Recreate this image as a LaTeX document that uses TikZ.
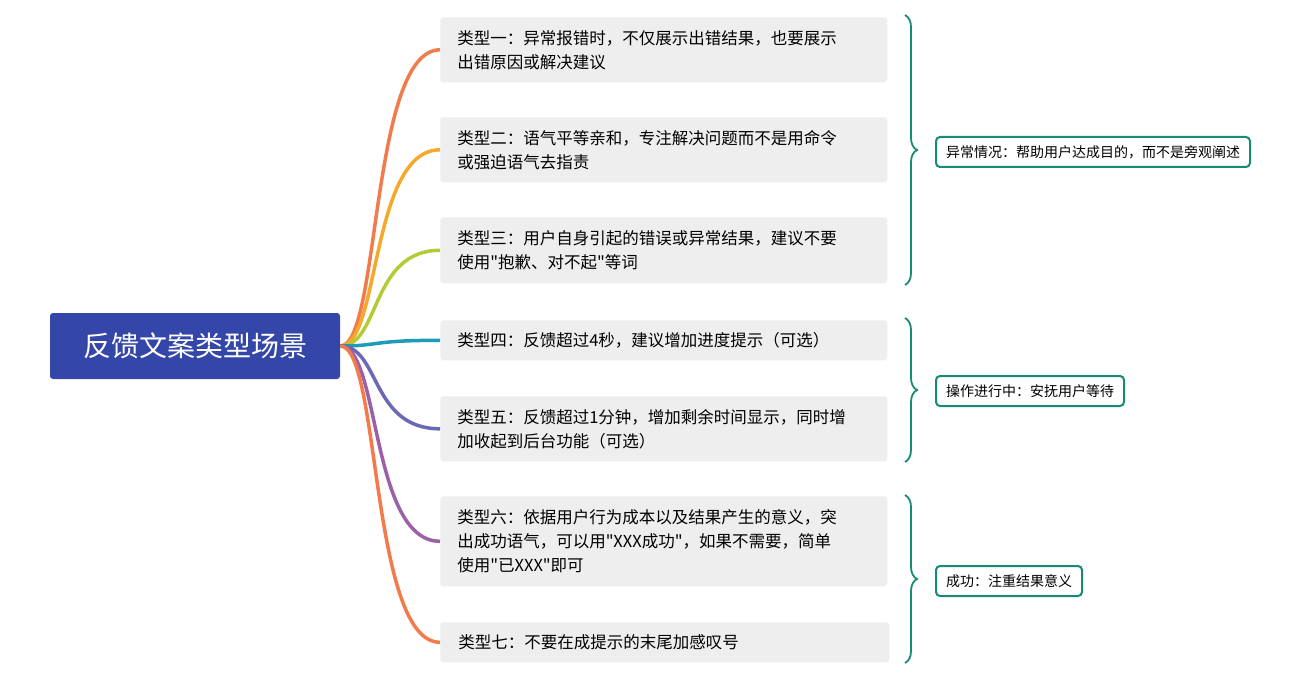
\documentclass[tikz,border=0pt]{standalone}
\usepackage{fontspec}
\defaultfontfeatures[\rmfamily]{}
\setmainfont{Noto Sans CJK SC}
\usetikzlibrary{positioning,decorations.pathreplacing}
\definecolor{rootblue}{HTML}{3446A8}
\definecolor{boxgray}{HTML}{EEEEEE}
\definecolor{teal}{HTML}{178A78}
\definecolor{cA}{HTML}{F27B4D}
\definecolor{cB}{HTML}{F6A82A}
\definecolor{cC}{HTML}{B3CB35}
\definecolor{cD}{HTML}{1D9BB8}
\definecolor{cE}{HTML}{6B69B6}
\definecolor{cF}{HTML}{9C60A9}
\definecolor{cG}{HTML}{F27A4B}
\newcommand{\qt}{\symbol{34}}

\begin{document}
\begin{tikzpicture}[x=1pt,y=-1pt,semithick]
  \tikzset{item/.style={fill=boxgray,rounded corners=3pt,anchor=north west,
                        minimum width=447pt,text width=413pt,align=left,
                        inner xsep=17pt,font=\fontsize{16.5}{24}\selectfont},
           tag/.style={draw=teal,line width=2pt,rounded corners=4pt,fill=white,
                       anchor=west,inner xsep=10pt,minimum height=30pt,
                       font=\fontsize{14}{16}\selectfont},
           branch/.style={line width=3.5pt},
           curly/.style={teal,line width=1.8pt,decorate,
                         decoration={brace,amplitude=12pt}}}
  \useasboundingbox (0,0) rectangle (1300,679);

  \node[fill=rootblue,rounded corners=3pt,text=white,minimum width=290pt,
        minimum height=66pt,font=\fontsize{28}{30}\selectfont] (root) at (195,346) {反馈文案类型场景};

  \node[item,minimum height=65pt] (t1) at (440,17) {类型一：异常报错时，不仅展示出错结果，也要展示\\出错原因或解决建议};
  \node[item,minimum height=65pt] (t2) at (440,117) {类型二：语气平等亲和，专注解决问题而不是用命令\\或强迫语气去指责};
  \node[item,minimum height=66pt] (t3) at (440,217) {类型三：用户自身引起的错误或异常结果，建议不要\\使用\qt 抱歉、对不起\qt 等词};
  \node[item,minimum height=40pt] (t4) at (440,320) {类型四：反馈超过4秒，建议增加进度提示（可选）};
  \node[item,minimum height=65pt] (t5) at (440,396) {类型五：反馈超过1分钟，增加剩余时间显示，同时增\\加收起到后台功能（可选）};
  \node[item,minimum height=90pt] (t6) at (440,496) {类型六：依据用户行为成本以及结果产生的意义，突\\出成功语气，可以用\qt XXX成功\qt ，如果不需要，简单\\使用\qt 已XXX\qt 即可};
  \node[item,minimum height=40pt,minimum width=449pt] (t7) at (440,622) {类型七：不要在成提示的末尾加感叹号};

  \foreach \t/\c in {t1/cA,t2/cB,t3/cC,t4/cD,t5/cE,t6/cF,t7/cG}
    \draw[branch,\c] (root.east) .. controls ++(40,0) and ([xshift=-70pt]\t.west) .. (\t.west);

  \coordinate (b1top) at (905,15);
  \coordinate (b1bot) at (905,285);
  \coordinate (b2top) at (905,318);
  \coordinate (b2bot) at (905,462);
  \coordinate (b3top) at (905,495);
  \coordinate (b3bot) at (905,663);
  \draw[curly] (b1top) -- (b1bot);
  \draw[curly] (b2top) -- (b2bot);
  \draw[curly] (b3top) -- (b3bot);

  \node[tag] (s1) at (935,152) {异常情况：帮助用户达成目的，而不是旁观阐述};
  \node[tag] (s2) at (935,391) {操作进行中：安抚用户等待};
  \node[tag] (s3) at (935,581) {成功：注重结果意义};
\end{tikzpicture}
\end{document}
